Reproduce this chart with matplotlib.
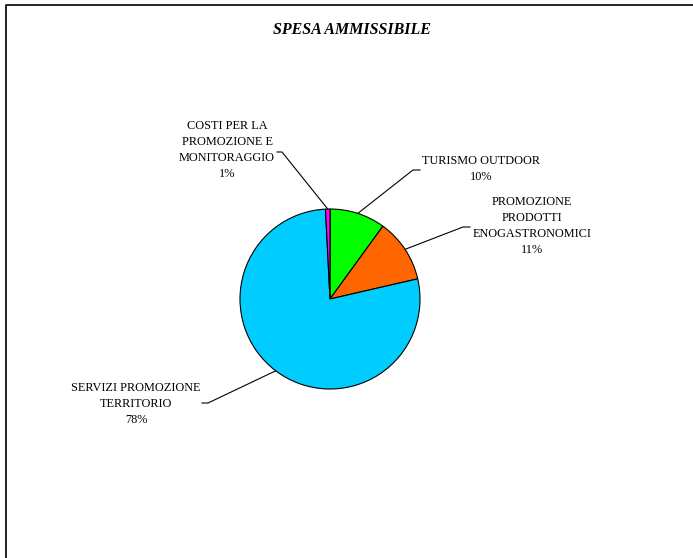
import numpy as np
import matplotlib
matplotlib.use("Agg")
import matplotlib.pyplot as plt

# data
labels = ["TURISMO OUTDOOR", "PROMOZIONE\nPRODOTTI\nENOGASTRONOMICI",
          "SERVIZI PROMOZIONE\nTERRITORIO", "COSTI PER LA\nPROMOZIONE E\nMONITORAGGIO"]
shares = [10.0, 11.4, 77.8, 0.8]
pct_text = ["10%", "11%", "78%", "1%"]
colors = ["#00FF00", "#FF6600", "#00CCFF", "#FF00FF"]

W, H = 693, 558
# label layout in pixel coords (image y downwards): elbow of leader, end of leader, text centre
elbows = [(413, 170), (463, 227), (208, 403), (282, 152)]
ends = [(420, 170), (470, 227), (202, 403), (277, 152)]
text_pos = [(481, 169), (532, 226), (136, 404), (227, 150)]

plt.rcParams["font.family"] = ["Liberation Serif", "DejaVu Serif"]

fig = plt.figure(figsize=(W / 100, H / 100), dpi=100)
ax = fig.add_axes([0, 0, 1, 1])

cx, cy, r = 330, H - 299, 90
wedges, _ = ax.pie(shares, colors=colors, startangle=90, counterclock=False,
                   center=(cx, cy), radius=r, frame=True,
                   wedgeprops=dict(edgecolor="black", linewidth=0.8))

for w, lab, pct, el, en, tp in zip(wedges, labels, pct_text, elbows, ends, text_pos):
    mid = np.deg2rad((w.theta1 + w.theta2) / 2)
    px, py = cx + r * np.cos(mid), cy + r * np.sin(mid)
    ax.plot([px, el[0], en[0]], [py, H - el[1], H - en[1]], color="black", lw=0.8)
    ax.text(tp[0], H - tp[1], lab + "\n" + pct, ha="center", va="center",
            fontsize=8.8, linespacing=1.47, color="black")

ax.text(352, H - 30, "SPESA AMMISSIBILE", ha="center", va="center",
        fontsize=11.5, fontweight="bold", fontstyle="italic")

# outer frame (only top and left visible)
ax.plot([6, 6, W + 10], [-10, H - 5, H - 5], color="black", lw=1.2)

ax.set_xlim(0, W)
ax.set_ylim(0, H)
ax.set_aspect("equal")
ax.axis("off")

fig.savefig("out.png", dpi=100)
